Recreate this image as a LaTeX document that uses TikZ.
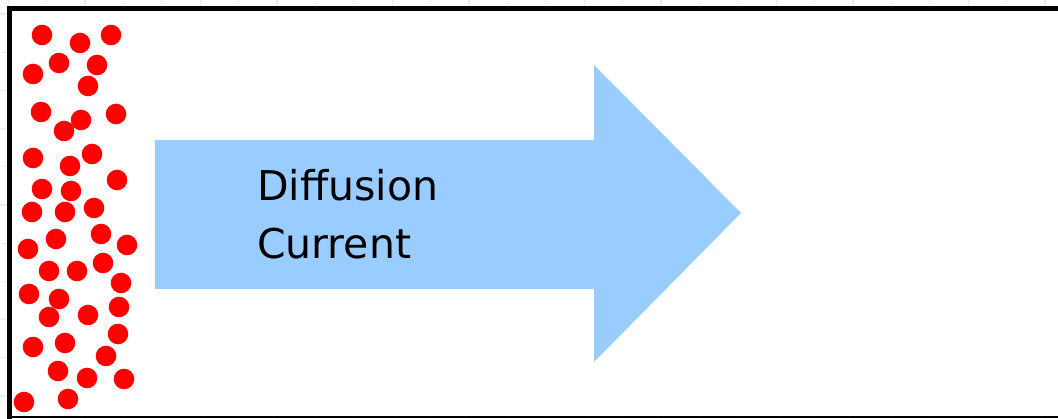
\documentclass[tikz,border=0pt]{standalone}
\usepackage{fontspec}
\usepackage{tikz}
\newfontfamily\currfont{DejaVu Sans}
\definecolor{arrowblue}{RGB}{153,204,255}
\definecolor{gridblue}{RGB}{222,239,252}

\begin{document}
\begin{tikzpicture}[x=1pt,y=1pt]
\tikzstyle{every node}+=[inner sep=0pt]
\tikzstyle{dot}=[fill=red]
\tikzstyle{gridline}=[draw=gridblue,line width=1.2pt]
\useasboundingbox (0,0) rectangle (1058,-419);
\foreach \x in {0,...,27} \draw [gridline] (8.1+38.4*\x,0) -- (8.1+38.4*\x,-419);
\foreach \y in {0,...,10} \draw [gridline] (0,-14-38.2*\y) -- (1058,-14-38.2*\y);
\fill [white] (9.5,-8.5) rectangle (1058,-417.5);
\fill [arrowblue] (155,-140) -- (594,-140) -- (594,-65) -- (741,-213) -- (594,-362) -- (594,-289) -- (155,-289) -- cycle;
\node [anchor=base west, align=left, font=\currfont\fontsize{41}{58}\selectfont] (label) at (257,-259) {Diffusion\\Current};
\fill [dot] (42,-35) circle (10.3);
\fill [dot] (80,-43) circle (10.3);
\fill [dot] (111,-35) circle (10.3);
\fill [dot] (33,-74) circle (10.3);
\fill [dot] (59,-63) circle (10.3);
\fill [dot] (97,-65) circle (10.3);
\fill [dot] (88,-86) circle (10.3);
\fill [dot] (41,-112) circle (10.3);
\fill [dot] (81,-120) circle (10.3);
\fill [dot] (116,-114) circle (10.3);
\fill [dot] (64,-131) circle (10.3);
\fill [dot] (33,-158) circle (10.3);
\fill [dot] (70,-166) circle (10.3);
\fill [dot] (92,-154) circle (10.3);
\fill [dot] (42,-189) circle (10.3);
\fill [dot] (71,-191) circle (10.3);
\fill [dot] (117,-180) circle (10.3);
\fill [dot] (32,-212) circle (10.3);
\fill [dot] (65,-212) circle (10.3);
\fill [dot] (94,-208) circle (10.3);
\fill [dot] (28,-249) circle (10.3);
\fill [dot] (56,-239) circle (10.3);
\fill [dot] (101,-234) circle (10.3);
\fill [dot] (127,-245) circle (10.3);
\fill [dot] (49,-271) circle (10.3);
\fill [dot] (77,-271) circle (10.3);
\fill [dot] (103,-263) circle (10.3);
\fill [dot] (121,-283) circle (10.3);
\fill [dot] (29,-294) circle (10.3);
\fill [dot] (59,-299) circle (10.3);
\fill [dot] (49,-317) circle (10.3);
\fill [dot] (88,-315) circle (10.3);
\fill [dot] (119,-307) circle (10.3);
\fill [dot] (33,-347) circle (10.3);
\fill [dot] (65,-343) circle (10.3);
\fill [dot] (118,-334) circle (10.3);
\fill [dot] (106,-356) circle (10.3);
\fill [dot] (58,-371) circle (10.3);
\fill [dot] (87,-378) circle (10.3);
\fill [dot] (124,-379) circle (10.3);
\fill [dot] (24,-402) circle (10.3);
\fill [dot] (68,-399) circle (10.3);
\draw [black, line width=5pt] (1058,-8.5) -- (9.5,-8.5) -- (9.5,-419);
\draw [black, line width=2pt] (9.5,-417.5) -- (1058,-417.5);
\end{tikzpicture}
\end{document}
